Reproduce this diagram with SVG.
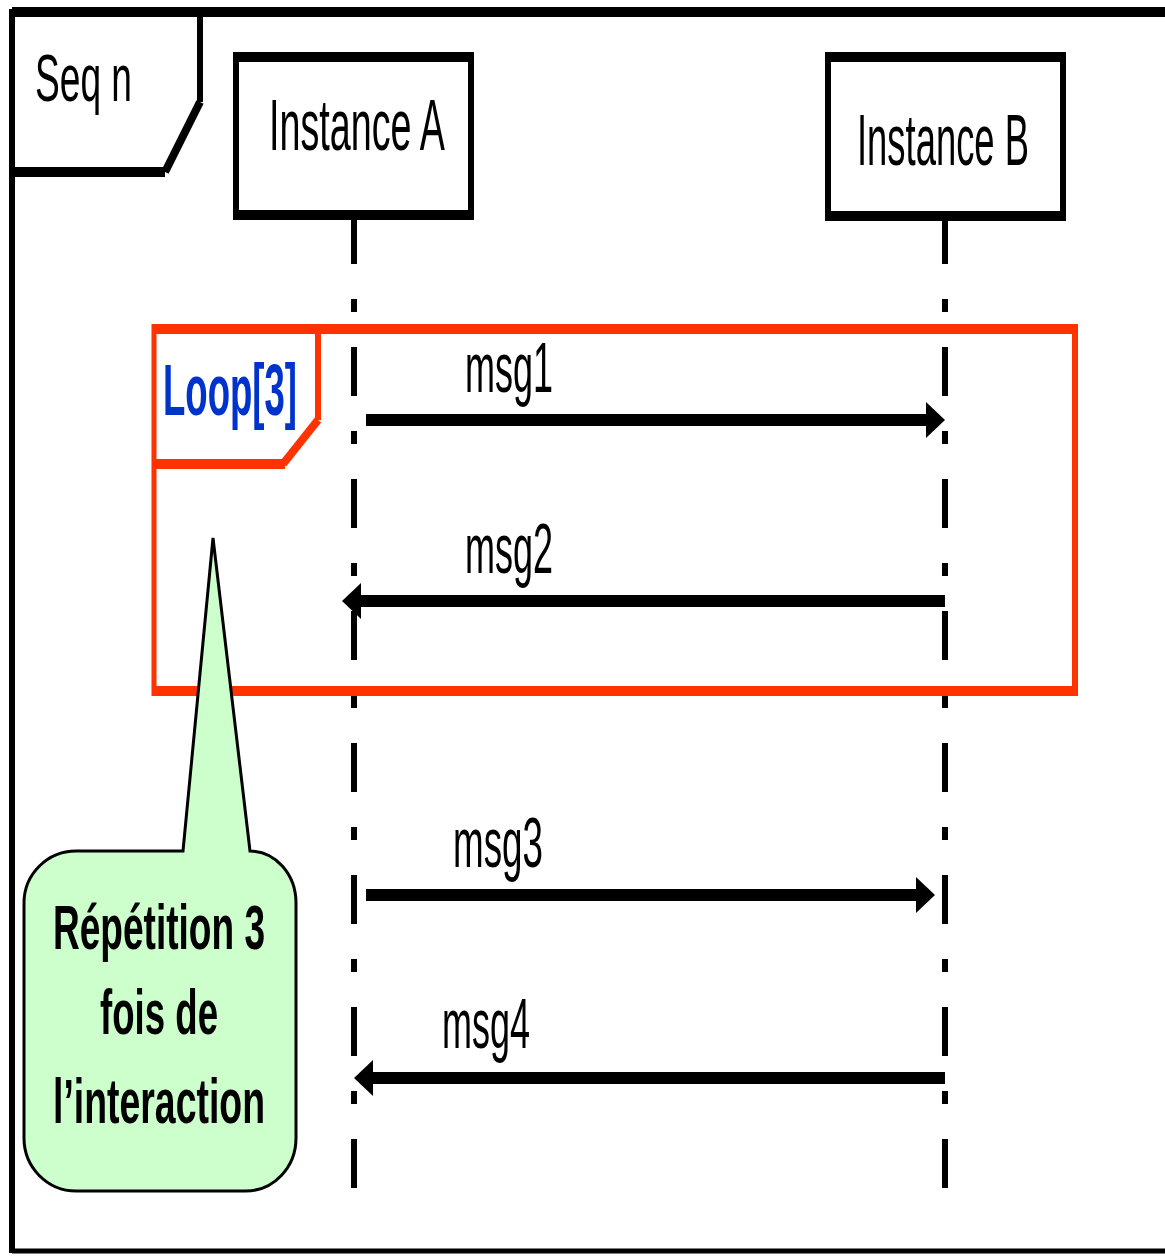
<svg xmlns="http://www.w3.org/2000/svg" width="1165" height="1256" viewBox="0 0 1165 1256">
<defs>
<style>
.blk{stroke:#000;fill:none}
.red{stroke:#FF3300;fill:none}
.life{stroke:#000;stroke-width:6;stroke-dasharray:49 35 13 35;fill:none}
.msg{stroke:#000;stroke-width:12;fill:none;marker-end:url(#arrow)}
.t{font-family:"Liberation Sans",Arial,sans-serif;fill:#000}
.b{font-weight:bold}
</style>
<marker id="arrow" viewBox="0 0 19 36" refX="4" refY="18" markerWidth="19" markerHeight="36" markerUnits="userSpaceOnUse" orient="auto">
<path d="M0,0 L19,18 L0,36 Z" fill="#000"/>
</marker>
</defs>
<rect width="1165" height="1256" fill="#fff"/>

<g id="frame">
<line class="blk" x1="12" y1="12" x2="1165" y2="12" stroke-width="10"/>
<line class="blk" x1="12" y1="9" x2="12" y2="1253" stroke-width="6"/>
<line class="blk" x1="12" y1="1251" x2="1165" y2="1251" stroke-width="5"/>
<line class="blk" x1="200" y1="12" x2="200" y2="102" stroke-width="6"/>
<line class="blk" x1="200" y1="102" x2="165" y2="172" stroke-width="8"/>
<line class="blk" x1="12" y1="172" x2="165" y2="172" stroke-width="10"/>
<text class="t" transform="scale(0.5,1)" x="70" y="101" font-size="67" textLength="194" lengthAdjust="spacingAndGlyphs">Seq n</text>
</g>

<g id="lifelines">
<line class="life" x1="354" y1="215" x2="354" y2="1188"/>
<line class="life" x1="945" y1="215" x2="945" y2="1188"/>
</g>

<g id="loop">
<line class="red" x1="154" y1="329" x2="1075" y2="329" stroke-width="10"/>
<line class="red" x1="154" y1="324" x2="154" y2="696" stroke-width="5"/>
<line class="red" x1="1075" y1="324" x2="1075" y2="696" stroke-width="6"/>
<line class="red" x1="152" y1="691" x2="1078" y2="691" stroke-width="10"/>
<line class="red" x1="318" y1="329" x2="318" y2="420" stroke-width="6"/>
<line class="red" x1="318" y1="420" x2="283" y2="464" stroke-width="8"/>
<line class="red" x1="154" y1="464" x2="285" y2="464" stroke-width="10"/>
<text class="t b" transform="scale(0.5,1)" x="326" y="415" font-size="72" style="fill:#0033CC" textLength="268" lengthAdjust="spacingAndGlyphs">Loop[3]</text>
</g>

<g id="connectors">
<line class="msg" x1="366" y1="420" x2="930" y2="420"/>
<line class="msg" x1="945" y1="601" x2="357" y2="601"/>
<line class="msg" x1="366" y1="895" x2="920" y2="895"/>
<line class="msg" x1="945" y1="1078" x2="369" y2="1078"/>
<text class="t" transform="scale(0.5,1)" x="930" y="392" font-size="70" textLength="176" lengthAdjust="spacingAndGlyphs">msg1</text>
<text class="t" transform="scale(0.5,1)" x="930" y="573" font-size="70" textLength="176" lengthAdjust="spacingAndGlyphs">msg2</text>
<text class="t" transform="scale(0.5,1)" x="906" y="867" font-size="70" textLength="180" lengthAdjust="spacingAndGlyphs">msg3</text>
<text class="t" transform="scale(0.5,1)" x="884" y="1048" font-size="70" textLength="176" lengthAdjust="spacingAndGlyphs">msg4</text>
</g>

<g id="instanceA">
<rect x="236" y="57" width="235" height="158" fill="#fff"/>
<line class="blk" x1="236" y1="52" x2="236" y2="220" stroke-width="6"/>
<line class="blk" x1="471" y1="52" x2="471" y2="220" stroke-width="6"/>
<line class="blk" x1="233" y1="57" x2="474" y2="57" stroke-width="10"/>
<line class="blk" x1="233" y1="215" x2="474" y2="215" stroke-width="10"/>
<text class="t" transform="scale(0.5,1)" x="538" y="150" font-size="72" textLength="352" lengthAdjust="spacingAndGlyphs">Instance A</text>
</g>

<g id="instanceB">
<rect x="828" y="57" width="235" height="159" fill="#fff"/>
<line class="blk" x1="828" y1="52" x2="828" y2="221" stroke-width="6"/>
<line class="blk" x1="1063" y1="52" x2="1063" y2="221" stroke-width="6"/>
<line class="blk" x1="825" y1="57" x2="1066" y2="57" stroke-width="10"/>
<line class="blk" x1="825" y1="216" x2="1066" y2="216" stroke-width="10"/>
<text class="t" transform="scale(0.5,1)" x="1714" y="165" font-size="72" textLength="344" lengthAdjust="spacingAndGlyphs">Instance B</text>
</g>

<g id="note">
<path d="M183,851 L213,538 L250,851 A46,52 0 0 1 296,903 L296,1138 A50,53 0 0 1 246,1191 L76,1191 A52,53 0 0 1 24,1138 L24,903 A52,52 0 0 1 76,851 Z" fill="#CCFFCC" stroke="#000" stroke-width="3"/>
<text class="t b" transform="scale(0.5,1)" x="106" y="949" font-size="63" textLength="424" lengthAdjust="spacingAndGlyphs">Répétition 3</text>
<text class="t b" transform="scale(0.5,1)" x="200" y="1034" font-size="63" textLength="236" lengthAdjust="spacingAndGlyphs">fois de</text>
<text class="t b" transform="scale(0.5,1)" x="106" y="1123" font-size="63" textLength="424" lengthAdjust="spacingAndGlyphs">l’interaction</text>
</g>
</svg>
